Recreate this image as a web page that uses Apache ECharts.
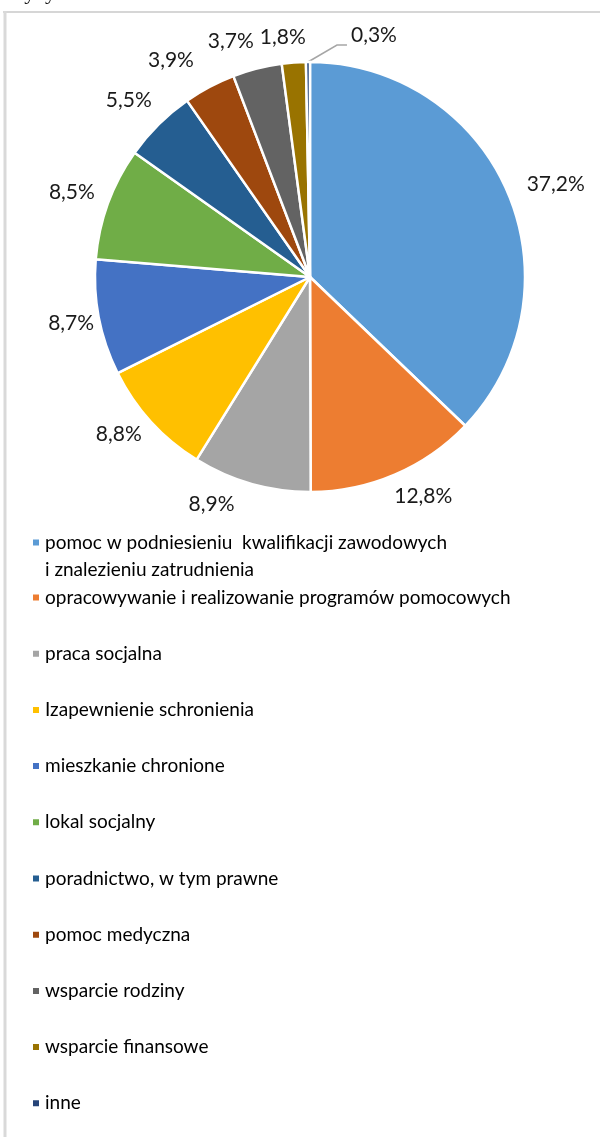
<!DOCTYPE html>
<html>
<head>
<meta charset="utf-8">
<script src="https://cdn.jsdelivr.net/npm/echarts@6/dist/echarts.min.js"></script>
<style>
html,body{margin:0;padding:0;background:#fff;}
#chart{width:600px;height:1137px;}
</style>
</head>
<body>
<div id="chart"></div>
<script>
const categories = [
  'pomoc w podniesieniu  kwalifikacji zawodowych\ni znalezieniu zatrudnienia',
  'opracowywanie i realizowanie programów pomocowych',
  'praca socjalna',
  'Izapewnienie schronienia',
  'mieszkanie chronione',
  'lokal socjalny',
  'poradnictwo, w tym prawne',
  'pomoc medyczna',
  'wsparcie rodziny',
  'wsparcie finansowe',
  'inne'
];
const values = [37.2, 12.8, 8.9, 8.8, 8.7, 8.5, 5.5, 3.9, 3.7, 1.8, 0.3];
const colors = ['#5B9BD5', '#ED7D31', '#A5A5A5', '#FFC000', '#4472C4', '#70AD47',
                '#255E91', '#9E480E', '#636363', '#997300', '#264478'];

// small label nudges (style only) to mimic the original label placement
const labelNudge = [[1, -3], [-11, 9], [-8, 7], [6, 3], [14, 3], [5, -6],
                    [8, -14], [-4, -14], [5, -14], [18, -11], [0, 0]];

const FONT = 'Lato, "Open Sans", sans-serif';

const data = categories.map((c, i) => {
  const d = { name: c, value: values[i], itemStyle: { color: colors[i] } };
  if (i === categories.length - 1) {
    d.labelLine = { show: true, length: 22, length2: 22, lineStyle: { color: '#A6A6A6', width: 1.5 } };
  }
  return d;
});

const legends = categories.map((c, i) => ({
  orient: 'vertical',
  left: 26,
  top: i === 0 ? 497 : 579 + (i - 1) * 56.2,
  data: [c],
  icon: 'rect',
  itemWidth: 8,
  itemHeight: 8,
  itemGap: 0,
  selectedMode: false,
  formatter: i === 0 ? (n => '\n' + n) : (n => n),
  textStyle: { fontFamily: FONT, fontSize: 19, color: '#000', lineHeight: 27, padding: [0, 0, 0, 0] }
}));

const chart = echarts.init(document.getElementById('chart'));
chart.setOption({
  animation: false,
  backgroundColor: '#fff',
  graphic: [
    { type: 'text', left: 6, top: -18, style: { text: 'kryzysu bezdomności.', font: '22px "Liberation Serif", serif', fill: '#111' } },
    { type: 'line', shape: { x1: 3, y1: 12, x2: 600, y2: 12 }, style: { stroke: '#D6D6D6', lineWidth: 2 } },
    { type: 'line', shape: { x1: 5, y1: 11, x2: 5, y2: 1137 }, style: { stroke: '#D9D9D9', lineWidth: 3 } }
  ],
  legend: legends,
  series: [{
    type: 'pie',
    center: [310, 277],
    radius: [0, 215],
    startAngle: 90,
    clockwise: true,
    avoidLabelOverlap: false,
    data: data,
    itemStyle: { borderColor: '#fff', borderWidth: 2.5 },
    labelLayout: function (p) {
      const i = p.dataIndex;
      if (i === categories.length - 1 && p.labelLinePoints) {
        const p0 = p.labelLinePoints[0];
        const p1 = [p0[0] + 29, p0[1] - 17];
        const p2 = [p1[0] + 10, p1[1]];
        return {
          x: p2[0] + 4, y: p1[1] - 10, align: 'left', verticalAlign: 'middle',
          labelLinePoints: [p0, p1, p2], hideOverlap: false
        };
      }
      return { dx: labelNudge[i][0], dy: labelNudge[i][1], hideOverlap: false };
    },
    label: {
      show: true,
      position: 'outside',
      formatter: p => String(p.value).replace('.', ',') + '%',
      fontFamily: FONT,
      fontSize: 21,
      color: '#1a1a1a',
      distanceToLabelLine: 1
    },
    labelLine: { show: false, length: 14, length2: 4 }
  }]
});
</script>
</body>
</html>
